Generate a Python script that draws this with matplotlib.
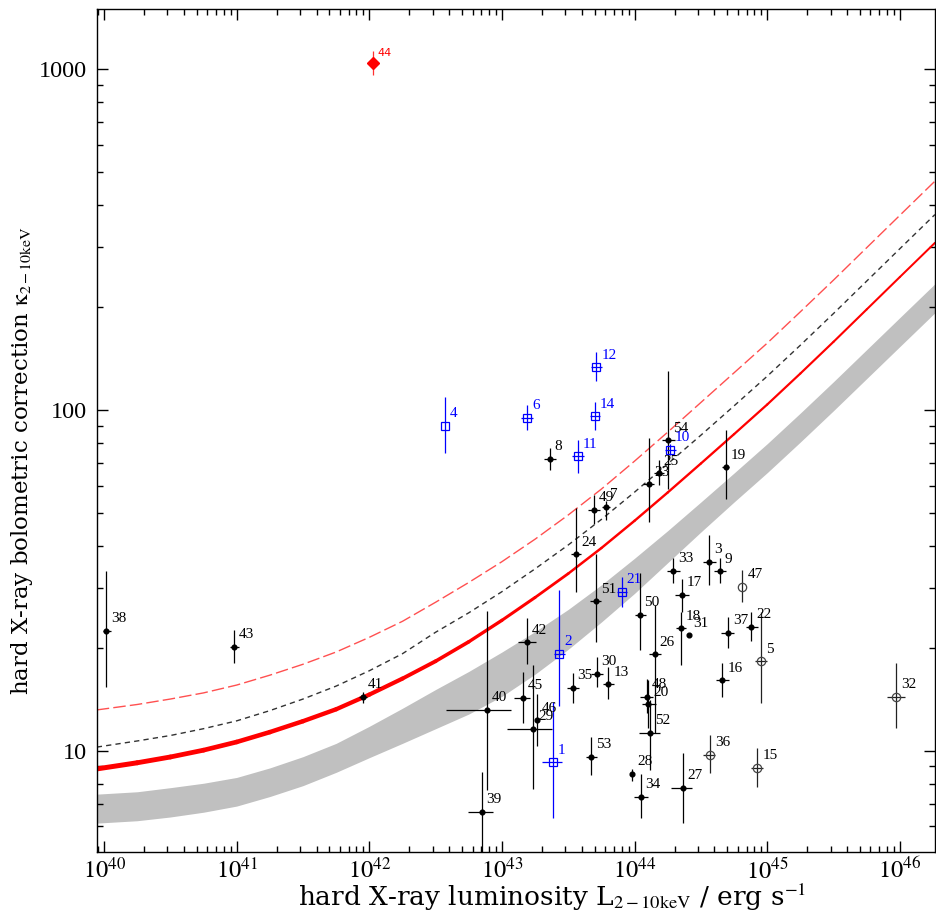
import numpy as np
import matplotlib
matplotlib.use('Agg')
import matplotlib.pyplot as plt
from matplotlib.collections import LineCollection
from matplotlib.ticker import FixedLocator, FixedFormatter, LogLocator, NullFormatter

plt.rcParams['font.family'] = ['Liberation Serif', 'DejaVu Serif']
plt.rcParams['mathtext.fontset'] = 'stix'

# ---------------- data ----------------
# black filled points
blk_id = ['38', '43', '41', '40', '39', '45', '29', '46', '42', '35', '30', '13', '51', '24', '53',
          '50', '26', '48', '20', '52', '28', '34', '27', '33', '17', '18', '31', '3', '9', '37',
          '22', '16', '19', '8', '54', '23', '25', '49', '7']
blk_L = [1.04e40, 9.59e40, 9.0e41, 7.66e42, 7.02e42, 1.43e43, 1.72e43, 1.84e43, 1.55e43, 3.42e43,
         5.19e43, 6.35e43, 5.11e43, 3.62e43, 4.68e43, 1.09e44, 1.42e44, 1.23e44, 1.27e44, 1.30e44,
         9.57e43, 1.11e44, 2.30e44, 1.95e44, 2.27e44, 2.24e44, 2.56e44, 3.65e44, 4.39e44, 5.07e44,
         7.6e44, 4.59e44, 4.89e44, 2.30e43, 1.80e44, 1.29e44, 1.52e44, 4.95e43, 6.04e43]
blk_K = [22.5, 20.2, 14.4, 13.2, 6.63, 14.3, 11.6, 12.3, 20.8, 15.3,
         16.8, 15.7, 27.5, 37.7, 9.6, 25.1, 19.2, 14.4, 13.7, 11.3,
         8.55, 7.33, 7.78, 33.7, 28.7, 22.9, 21.8, 35.9, 33.6, 22.2,
         23.1, 16.1, 67.8, 71.9, 81.5, 60.5, 65.2, 51.0, 51.9]
blk_Llo = [0.98e40, 8.85e40, 8.4e41, 3.76e42, 5.51e42, 1.24e43, 1.09e43, 1.80e43, 1.32e43, 3.08e43,
           4.73e43, 5.80e43, 4.59e43, 3.33e43, 4.27e43, 1.00e44, 1.29e44, 1.09e44, 1.13e44, 1.08e44,
           9.57e43, 9.9e43, 1.87e44, 1.74e44, 2.02e44, 2.04e44, 2.56e44, 3.28e44, 3.95e44, 4.52e44,
           6.96e44, 4.14e44, 4.59e44, 2.07e43, 1.62e44, 1.15e44, 1.40e44, 4.47e43, 5.63e43]
blk_Lhi = [1.12e40, 1.04e41, 9.64e41, 1.16e43, 8.59e42, 1.64e43, 2.37e43, 1.88e43, 1.81e43, 3.79e43,
           5.73e43, 6.97e43, 5.62e43, 3.95e43, 5.17e43, 1.21e44, 1.57e44, 1.38e44, 1.45e44, 1.55e44,
           9.57e43, 1.26e44, 2.73e44, 2.19e44, 2.55e44, 2.45e44, 2.56e44, 4.09e44, 4.87e44, 5.63e44,
           8.52e44, 5.12e44, 5.15e44, 2.55e43, 2.01e44, 1.41e44, 1.66e44, 5.47e43, 6.5e43]
blk_Klo = [15.4, 18.1, 13.8, 7.7, 4.5, 12.1, 7.73, 10.3, 18.0, 13.8,
           15.4, 14.2, 20.9, 29.3, 8.47, 19.8, 11.3, 12.9, 11.7, 8.8,
           8.15, 6.36, 6.14, 31.0, 25.5, 17.9, 21.8, 30.6, 31.0, 20.0,
           21.0, 14.4, 54.7, 66.5, 58.8, 46.9, 60.1, 46.4, 47.7]
blk_Khi = [33.6, 22.6, 14.9, 25.8, 8.66, 17.0, 17.9, 14.7, 24.5, 16.9,
           18.8, 17.6, 37.9, 51.6, 11.0, 33.3, 26.8, 16.2, 16.1, 14.1,
           8.83, 8.55, 9.85, 36.9, 31.9, 25.5, 21.8, 42.9, 36.9, 24.7,
           25.6, 18.1, 87.5, 77.5, 129.9, 82.9, 71.5, 56.2, 53.9]

# open circles
opn_id = ['47', '5', '32', '36', '15']
opn_L = [6.5e44, 8.98e44, 9.42e45, 3.73e44, 8.43e44]
opn_K = [30.3, 18.3, 14.4, 9.73, 8.93]
opn_Llo = [6.5e44, 8.05e44, 8.0e45, 3.28e44, 7.59e44]
opn_Lhi = [6.5e44, 9.97e44, 1.09e46, 4.02e44, 9.29e44]
opn_Klo = [27.4, 13.8, 11.65, 8.6, 7.86]
opn_Khi = [33.9, 25.6, 18.1, 11.1, 10.2]

# blue squares
blu_id = ['4', '6', '12', '14', '11', '10', '2', '1', '21']
blu_L = [3.72e42, 1.55e43, 5.16e43, 5.01e43, 3.75e43, 1.85e44, 2.70e43, 2.43e43, 8.0e43]
blu_K = [89.7, 94.9, 133.4, 95.8, 73.1, 76.4, 19.3, 9.25, 29.3]
blu_Llo = [3.72e42, 1.40e43, 4.73e43, 4.59e43, 3.40e43, 1.69e44, 2.45e43, 2.02e43, 7.35e43]
blu_Lhi = [3.72e42, 1.72e43, 5.63e43, 5.47e43, 4.14e43, 2.04e44, 2.97e43, 2.86e43, 8.73e43]
blu_Klo = [74.9, 87.5, 121.2, 87.5, 65.5, 73.6, 13.5, 6.35, 26.5]
blu_Khi = [109.5, 103.6, 147.7, 105.4, 81.8, 79.6, 29.6, 13.9, 32.3]

# red diamond
red_id = ['44']
red_L = [1.06e42]
red_K = [1040.0]
red_Klo = [960.0]
red_Khi = [1130.0]

# curves (log10 values)
crv_logL = [39.945, 40.25, 40.5, 40.75, 41.0, 41.25, 41.5, 41.75, 42.0, 42.25, 42.5, 42.75, 43.0,
            43.25, 43.5, 43.75, 44.0, 44.25, 44.5, 44.75, 45.0, 45.25, 45.5, 45.75, 46.0, 46.264]
rsol_logK = [0.947, 0.965, 0.982, 1.002, 1.026, 1.055, 1.087, 1.122, 1.165, 1.212, 1.263, 1.320, 1.383,
             1.450, 1.520, 1.595, 1.675, 1.758, 1.843, 1.929, 2.016, 2.107, 2.200, 2.295, 2.390, 2.490]
kdash_logK = [1.011, 1.029, 1.045, 1.065, 1.088, 1.118, 1.152, 1.190, 1.235, 1.285, 1.348, 1.405, 1.467,
              1.534, 1.604, 1.679, 1.759, 1.842, 1.926, 2.012, 2.099, 2.190, 2.283, 2.378, 2.473, 2.573]
rdash_logK = [1.120, 1.136, 1.152, 1.170, 1.193, 1.222, 1.254, 1.290, 1.333, 1.380, 1.436, 1.494, 1.555,
              1.621, 1.692, 1.768, 1.850, 1.935, 2.022, 2.109, 2.196, 2.288, 2.381, 2.476, 2.571, 2.671]
band_hi_logK = [0.873, 0.880, 0.892, 0.905, 0.922, 0.950, 0.983, 1.022, 1.072, 1.125, 1.180, 1.233, 1.290,
                1.350, 1.415, 1.487, 1.565, 1.646, 1.730, 1.815, 1.901, 1.991, 2.083, 2.177, 2.271, 2.370]
band_lo_logK = [0.788, 0.795, 0.806, 0.820, 0.838, 0.866, 0.898, 0.937, 0.980, 1.022, 1.065, 1.108, 1.160,
                1.225, 1.298, 1.378, 1.462, 1.552, 1.642, 1.730, 1.816, 1.906, 1.998, 2.092, 2.186, 2.285]

# axis ticks
xmaj = [1e40, 1e41, 1e42, 1e43, 1e44, 1e45, 1e46]
xmaj_lab = [r'$10^{40}$', r'$10^{41}$', r'$10^{42}$', r'$10^{43}$', r'$10^{44}$', r'$10^{45}$', r'$10^{46}$']
ymaj = [10, 100, 1000]
ymaj_lab = ['10', '100', '1000']

# ---------------- figure ----------------
fig = plt.figure(figsize=(9.36, 9.13), dpi=100)
ax = fig.add_axes([96.7 / 936, 61 / 913, (935 - 96.7) / 936, 843 / 913])
ax.set_xscale('log')
ax.set_yscale('log')
ax.set_xlim(8.8e39, 1.84e46)
ax.set_ylim(5.05, 1500)

cL = 10 ** np.array(crv_logL)
ax.fill_between(cL, 10 ** np.array(band_lo_logK), 10 ** np.array(band_hi_logK),
                color='#c0c0c0', lw=0, zorder=1)

# red solid line: thick at low L, thinner at high L
pts = np.column_stack([cL, 10 ** np.array(rsol_logK)])
segs = np.stack([pts[:-1], pts[1:]], axis=1)
seg_lw = np.interp(np.array(crv_logL[:-1]), [39.9, 42.0, 43.5, 46.3], [3.6, 3.0, 1.8, 1.4])
lc = LineCollection(segs, colors='red', linewidths=seg_lw, capstyle='round', joinstyle='round',
                    zorder=2)
ax.add_collection(lc)
ax.plot(cL, 10 ** np.array(kdash_logK), color='#333333', lw=1.0, dashes=(3.8, 3.0), zorder=2)
ax.plot(cL, 10 ** np.array(rdash_logK), color='#ff5050', lw=1.0, dashes=(9, 3), zorder=2)


def errs(v, lo, hi):
    v = np.asarray(v)
    return [v - np.asarray(lo), np.asarray(hi) - v]


ax.errorbar(blk_L, blk_K, xerr=errs(blk_L, blk_Llo, blk_Lhi), yerr=errs(blk_K, blk_Klo, blk_Khi),
            fmt='o', ms=3.4, color='black', ecolor='black', elinewidth=0.9, capsize=0, zorder=4)
ax.errorbar(opn_L, opn_K, xerr=errs(opn_L, opn_Llo, opn_Lhi), yerr=errs(opn_K, opn_Klo, opn_Khi),
            fmt='o', ms=6, mfc='none', mec='#444444', mew=0.9, ecolor='#222222', elinewidth=0.9,
            capsize=0, zorder=4)
ax.errorbar(blu_L, blu_K, xerr=errs(blu_L, blu_Llo, blu_Lhi), yerr=errs(blu_K, blu_Klo, blu_Khi),
            fmt='s', ms=6.3, mfc='none', mec='blue', mew=0.9, ecolor='blue', elinewidth=0.9,
            capsize=0, zorder=4)
ax.errorbar(red_L, red_K, yerr=errs(red_K, red_Klo, red_Khi),
            fmt='D', ms=6, color='red', ecolor='#ff3030', elinewidth=0.9, capsize=0, zorder=4)

for ids, Ls, Ks, col in [(blk_id, blk_L, blk_K, 'black'), (opn_id, opn_L, opn_K, 'black'),
                         (blu_id, blu_L, blu_K, 'blue')]:
    for i, l, k in zip(ids, Ls, Ks):
        ax.annotate(i, (l, k), xytext=(3.5, 4), textcoords='offset points', ha='left', va='bottom',
                    fontsize=11, color=col, zorder=5)
for i, l, k in zip(red_id, red_L, red_K):
    ax.annotate(i, (l, k), xytext=(3.5, 4), textcoords='offset points', ha='left', va='bottom',
                fontsize=8, color='red', family='DejaVu Sans', zorder=5)

ax.xaxis.set_major_locator(FixedLocator(xmaj))
ax.xaxis.set_major_formatter(FixedFormatter(xmaj_lab))
ax.xaxis.set_minor_locator(LogLocator(base=10, subs=np.arange(2, 10)))
ax.xaxis.set_minor_formatter(NullFormatter())
ax.yaxis.set_major_locator(FixedLocator(ymaj))
ax.yaxis.set_major_formatter(FixedFormatter(ymaj_lab))
ax.yaxis.set_minor_locator(LogLocator(base=10, subs=np.arange(2, 10)))
ax.yaxis.set_minor_formatter(NullFormatter())

ax.tick_params(which='both', direction='in', top=True, right=True, width=1, color='black')
ax.tick_params(which='major', length=8, labelsize=17.5)
ax.tick_params(axis='x', which='major', pad=4)
ax.tick_params(axis='y', which='major', pad=7)
ax.tick_params(which='minor', length=4.5)
for s in ax.spines.values():
    s.set_linewidth(1.0)

ax.set_xlabel(r'hard X-ray luminosity L$_{\mathrm{2-10keV}}$ / erg s$^{\mathrm{-1}}$', fontsize=19,
              family='DejaVu Serif')
ax.set_ylabel(r'hard X-ray bolometric correction $\mathrm{\kappa}_{\mathrm{2-10keV}}$', fontsize=16.5,
              family='DejaVu Serif')
ax.xaxis.set_label_coords(0.543, -0.035)
ax.yaxis.set_label_coords(-0.074, 0.464)

fig.savefig('out.png', dpi=100)
